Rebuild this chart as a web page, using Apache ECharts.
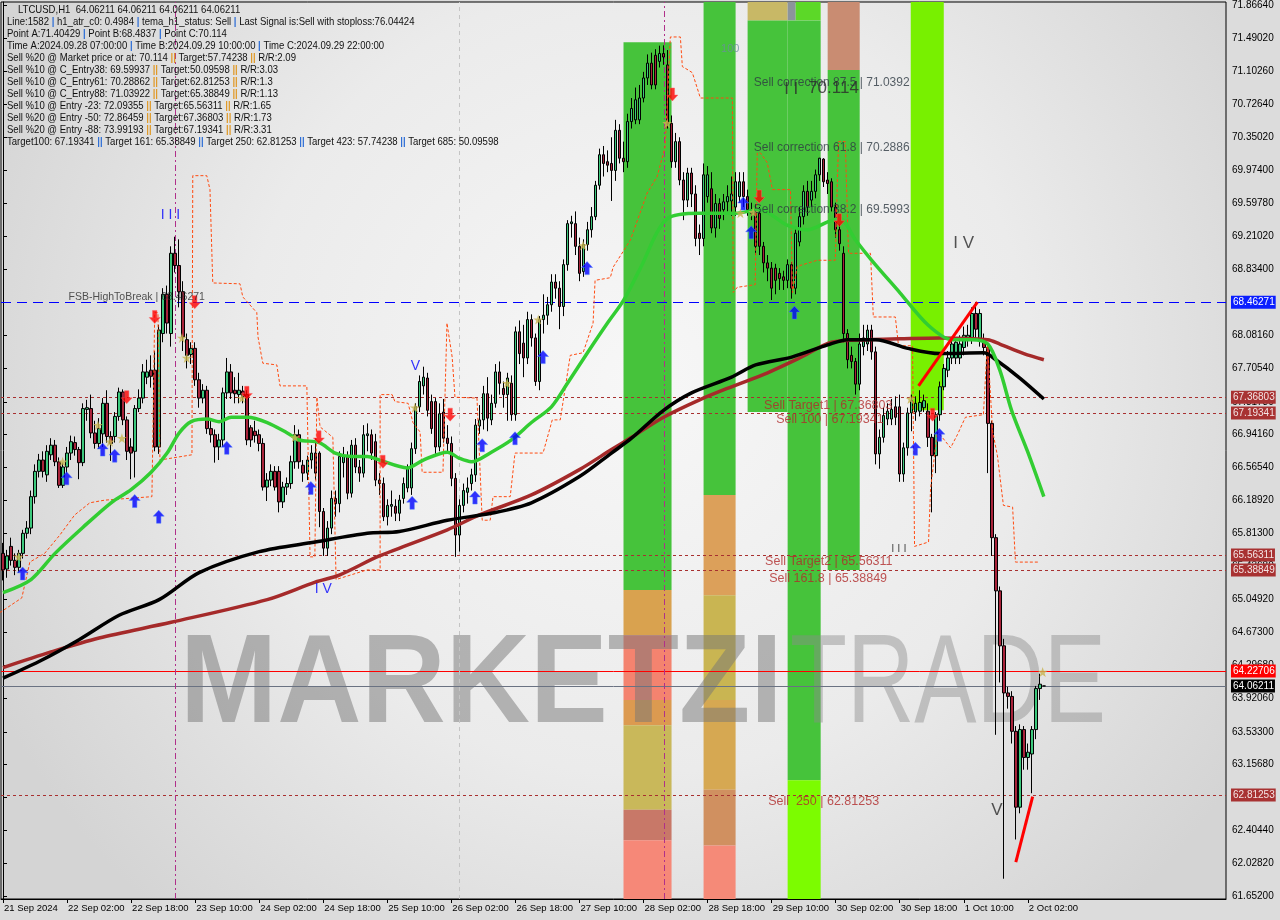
<!DOCTYPE html>
<html><head><meta charset="utf-8">
<script src="https://cdn.jsdelivr.net/npm/echarts@6/dist/echarts.min.js"></script>
<style>html,body{margin:0;padding:0;background:#dcdcdc}#c{width:1280px;height:920px}</style>
</head><body><div id="c"></div>
<script>
// ---------- DATA ----------
const totalSlots = 306;
const barsPerTick = 16;
const xTickLabels = ["21 Sep 2024","22 Sep 02:00","22 Sep 18:00","23 Sep 10:00","24 Sep 02:00","24 Sep 18:00","25 Sep 10:00","26 Sep 02:00","26 Sep 18:00","27 Sep 10:00","28 Sep 02:00","28 Sep 18:00","29 Sep 10:00","30 Sep 02:00","30 Sep 18:00","1 Oct 10:00","2 Oct 02:00"];
const yTicks = [71.8664,71.4902,71.1026,70.7264,70.3502,69.974,69.5978,69.2102,68.834,68.4578,68.0816,67.7054,67.3178,66.9416,66.5654,66.1892,65.813,65.4368,65.0492,64.673,64.2968,63.9206,63.533,63.1568,62.7806,62.4044,62.0282,61.652];
const yMin = 61.6176, yMax = 71.9008;

// [open, close, low, high]
const candles = [
[65.58,65.39,65.27,65.70],[65.40,65.55,65.30,65.62],[65.66,65.50,65.44,65.76],[65.50,65.42,65.33,65.58],[65.42,65.58,65.36,65.62],
[65.58,65.81,65.52,65.85],[65.81,65.87,65.75,65.95],[65.87,66.23,65.80,66.30],[66.23,66.52,66.15,66.60],[66.52,66.65,66.45,66.72],
[66.65,66.52,66.45,66.75],[66.48,66.75,66.40,66.82],[66.71,66.82,66.65,66.90],[66.82,66.63,66.58,66.88],[66.63,66.36,66.33,66.68],
[66.36,66.57,66.33,66.62],[66.57,66.73,66.50,66.80],[66.73,66.86,66.65,66.93],[66.85,66.77,66.70,66.92],[66.77,66.62,66.43,66.80],
[66.62,67.24,66.58,67.30],[67.23,67.25,67.10,67.34],[67.24,66.96,66.90,67.40],[66.96,66.84,66.78,67.10],[66.84,67.01,66.78,67.13],
[66.95,67.30,66.80,67.36],[67.30,66.92,66.85,67.45],[66.92,66.84,66.64,66.98],[66.92,67.15,66.85,67.20],[67.15,67.43,67.10,67.48],
[67.43,67.11,67.05,67.46],[67.11,66.75,66.65,67.15],[66.80,66.73,66.43,66.90],[66.75,67.24,66.45,67.28],[67.24,67.36,67.20,67.46],
[67.36,67.66,67.30,67.75],[67.60,67.66,67.52,67.80],[67.68,67.61,67.48,67.85],[67.68,66.80,66.75,67.90],[66.80,68.14,66.72,68.20],
[68.10,68.55,68.00,68.62],[68.55,68.22,68.10,68.65],[68.10,69.02,67.95,69.10],[69.02,68.88,68.80,69.21],[68.88,68.58,68.40,69.18],
[68.58,68.06,67.90,68.70],[68.03,67.85,67.70,68.10],[67.86,67.93,67.75,68.00],[67.93,67.57,67.50,68.00],[67.57,67.36,67.25,67.65],
[67.36,67.45,67.30,67.52],[67.45,67.01,66.95,67.50],[67.01,66.94,66.85,67.10],[66.94,66.80,66.62,67.00],[66.80,66.88,66.65,66.95],
[66.88,67.42,66.80,67.48],[67.42,67.66,67.35,67.82],[67.66,67.42,67.35,67.75],[67.45,67.41,67.30,67.60],[67.40,67.45,67.30,67.65],
[67.44,67.38,67.30,67.50],[67.40,66.88,66.82,67.45],[67.02,66.88,66.80,67.05],[66.98,66.93,66.85,67.10],[66.94,66.84,66.75,67.00],
[66.84,66.34,66.30,66.90],[66.34,66.42,66.18,66.50],[66.42,66.52,66.35,66.60],[66.52,66.34,66.30,66.58],[66.52,66.17,66.05,66.58],
[66.17,66.34,66.10,66.40],[66.34,66.38,66.25,66.45],[66.38,66.63,66.32,66.70],[66.63,66.94,66.55,67.05],[66.94,66.63,66.55,67.00],
[66.59,66.50,66.40,66.65],[66.50,66.65,66.42,66.70],[66.65,66.73,66.55,66.82],[66.73,66.50,66.42,66.90],[66.73,66.06,65.88,66.75],
[66.06,65.64,65.55,66.10],[65.64,65.87,65.55,65.95],[65.87,66.21,65.80,66.30],[66.21,66.15,66.00,66.30],[66.15,66.69,66.05,66.75],
[66.62,66.69,66.45,66.80],[66.69,66.27,66.20,66.75],[66.27,66.82,66.22,66.88],[66.82,66.57,66.50,66.90],[66.57,66.50,66.40,66.65],
[66.50,66.94,66.45,67.05],[66.93,66.95,66.75,67.07],[66.94,66.73,66.65,67.00],[66.86,66.42,66.35,66.95],[66.42,66.38,66.25,66.50],
[66.38,66.00,65.95,66.45],[66.00,66.13,65.90,66.20],[66.12,66.14,66.00,66.30],[66.12,66.04,65.95,66.20],[66.04,66.19,65.95,66.25],
[66.21,66.38,66.15,66.45],[66.33,66.55,66.28,66.60],[66.33,66.78,66.25,66.85],[66.78,67.26,66.72,67.30],[67.26,67.55,67.20,67.62],
[67.50,67.60,67.40,67.72],[67.59,67.22,67.15,67.65],[67.32,67.01,66.95,67.40],[67.32,66.80,66.72,67.36],[66.80,67.18,66.75,67.30],
[67.20,66.90,66.85,67.35],[66.90,66.84,66.75,67.05],[66.84,66.44,66.35,66.92],[66.44,65.79,65.54,66.50],[65.79,66.13,65.60,66.20],
[66.13,66.30,66.05,66.38],[66.28,66.33,66.15,66.45],[66.38,66.48,66.30,66.55],[66.48,67.05,66.40,67.12],[67.04,67.11,66.95,67.28],
[67.11,67.41,67.00,67.50],[67.41,67.13,66.98,67.60],[67.11,67.30,67.05,67.40],[67.30,67.66,67.25,67.75],[67.66,67.53,67.40,67.78],
[67.47,67.40,67.25,67.55],[67.40,67.59,67.10,67.65],[67.53,67.17,67.10,67.62],[67.17,68.12,67.10,68.18],[68.12,67.87,67.75,68.25],
[67.99,67.82,67.60,68.20],[67.82,68.26,67.75,68.35],[68.26,68.05,67.95,68.32],[68.05,67.55,67.50,68.10],[67.55,68.26,67.45,68.30],
[68.26,68.31,68.10,68.55],[68.31,68.43,68.20,68.52],[68.43,68.69,68.35,68.78],[68.69,68.62,68.50,68.78],[68.62,68.41,68.15,68.70],
[68.41,68.89,68.30,68.95],[68.89,69.36,68.82,69.40],[69.36,69.38,69.20,69.45],[69.36,69.10,69.00,69.50],[69.10,68.79,68.70,69.20],
[68.81,69.12,68.75,69.18],[69.12,69.29,69.05,69.38],[69.29,69.44,69.20,69.55],[69.44,69.80,69.40,69.85],[69.80,70.15,69.75,70.22],
[70.15,70.05,69.90,70.25],[70.07,70.03,69.95,70.20],[70.05,69.97,69.62,70.35],[69.97,70.43,69.85,70.55],[70.43,70.11,70.05,70.50],
[70.11,70.07,69.95,70.30],[70.07,70.53,70.00,70.62],[70.53,70.68,70.45,70.80],[70.55,70.78,70.50,70.92],[70.55,70.80,70.50,70.95],
[70.80,71.03,70.75,71.10],[71.03,71.20,70.95,71.30],[71.20,70.95,70.90,71.32],[71.29,70.95,70.90,71.36],[71.22,71.31,71.15,71.40],
[71.31,71.27,71.18,71.404],[71.18,70.51,70.45,71.35],[70.51,70.07,70.00,70.60],[70.07,70.30,70.00,70.40],[70.30,69.86,69.80,70.35],
[69.86,69.63,69.40,69.95],[69.63,69.94,69.55,70.00],[69.94,69.70,69.55,70.00],[69.70,69.19,69.10,69.80],[69.25,69.19,69.00,69.35],
[69.19,69.92,69.10,70.05],[69.67,69.92,69.60,70.02],[69.76,69.31,69.25,69.95],[69.31,69.59,69.20,69.70],[69.59,69.42,69.30,69.65],
[69.52,69.61,69.40,69.70],[69.61,69.67,69.50,69.80],[69.62,69.70,69.45,69.90],[69.55,69.84,69.45,69.95],[69.67,69.84,69.60,69.95],
[69.84,69.67,69.55,69.95],[69.67,69.52,69.45,69.75],[69.52,69.48,69.40,69.60],[69.52,69.10,69.00,69.58],[69.48,69.10,69.00,69.55],
[69.10,68.91,68.80,69.15],[68.91,68.85,68.70,69.00],[68.85,68.62,68.484,68.92],[68.85,68.71,68.55,68.90],[68.79,68.73,68.60,68.85],
[68.75,68.71,68.60,68.82],[68.71,68.89,68.62,68.95],[68.89,68.62,68.50,68.92],[68.62,69.25,68.55,69.30],[69.15,69.44,69.10,69.55],
[69.44,69.73,69.35,69.80],[69.73,69.55,69.45,69.85],[69.63,69.73,69.55,69.85],[69.73,69.92,69.65,69.98],[69.92,70.11,69.85,70.114],
[70.10,69.84,69.78,70.11],[69.86,69.82,69.70,69.95],[69.84,69.55,69.50,69.88],[69.55,69.29,69.20,69.60],[69.29,69.13,69.05,69.35],
[69.02,68.10,68.00,69.10],[68.10,67.80,67.70,68.15],[67.85,67.78,67.70,67.95],[67.78,67.52,67.40,67.82],[67.52,67.98,67.45,68.10],
[67.95,68.05,67.85,68.20],[67.98,68.14,67.90,68.20],[68.14,67.89,67.80,68.20],[67.89,66.72,66.60,67.95],[66.72,66.91,66.55,67.00],
[66.91,67.16,66.85,67.25],[67.12,67.21,67.05,67.30],[67.12,67.23,67.05,67.35],[67.26,67.14,67.05,67.38],[67.26,66.49,66.40,67.40],
[66.49,66.79,66.40,66.85],[66.79,67.19,66.70,67.25],[67.19,67.33,66.98,67.40],[67.20,67.30,67.10,67.38],[67.21,67.31,67.15,67.45],
[67.25,67.33,67.20,67.40],[67.21,66.91,66.80,67.30],[66.91,66.70,66.05,66.95],[66.70,67.17,66.50,67.20],[67.17,67.49,67.10,67.55],
[67.49,67.70,67.45,67.75],[67.68,67.82,67.60,67.90],[67.82,67.98,67.75,68.05],[67.82,68.00,67.75,68.05],[67.82,67.98,67.75,68.08],
[67.94,68.08,67.85,68.18],[68.05,68.08,67.95,68.20],[68.05,68.33,67.98,68.40],[68.33,68.15,68.05,68.46],[68.03,68.33,67.95,68.38],
[68.01,67.94,67.85,68.10],[67.94,67.07,66.50,68.00],[67.07,65.76,65.55,67.10],[65.76,65.15,63.50,65.80],[65.15,64.52,64.10,65.20],
[64.52,63.98,61.85,64.60],[63.98,63.94,63.80,64.05],[63.94,63.54,63.40,64.00],[63.54,62.67,62.30,63.60],[62.67,63.56,62.60,63.62],
[63.56,63.24,63.10,63.60],[63.24,63.30,63.10,63.40],[63.28,63.56,62.83,63.60],[63.56,64.03,63.45,64.06],[64.03,64.08,63.90,64.20],
[64.06,64.06,64.06,64.06]
];

// moving averages: [barIndex, price]
const greenMA = [[0,65.13],[7,65.28],[13,65.58],[20,65.88],[27,66.16],[32,66.31],[37,66.51],[41,66.73],[44,66.96],[47,67.09],[51,67.12],[54,67.09],[57,67.14],[61,67.14],[66,67.08],[71,66.96],[74,66.88],[79,66.85],[83,66.73],[87,66.69],[91,66.69],[94,66.65],[101,66.56],[105,66.65],[111,66.74],[114,66.67],[117,66.63],[122,66.74],[127,66.88],[132,67.08],[137,67.26],[141,67.53],[146,67.88],[151,68.22],[155,68.48],[159,68.83],[166,69.42],[174,69.48],[183,69.48],[189,69.52],[196,69.34],[201,69.29],[206,69.38],[209,69.42],[213,69.17],[217,68.94],[224,68.57],[231,68.20],[237,68.03],[242,68.03],[246,67.98],[249,67.68],[252,67.21],[256,66.74],[260,66.23]];
const blackMA = [[0,64.15],[9,64.34],[19,64.59],[29,64.87],[39,65.05],[49,65.36],[64,65.60],[78,65.71],[91,65.81],[99,65.83],[111,65.96],[122,66.04],[132,66.16],[144,66.46],[152,66.73],[157,66.90],[165,67.22],[172,67.42],[182,67.60],[188,67.74],[197,67.83],[206,67.97],[211,68.03],[218,68.03],[226,67.93],[234,67.87],[245,67.88],[248,67.80],[254,67.59],[260,67.35]];
const brownMA = [[0,64.27],[12,64.45],[24,64.61],[42,64.79],[66,65.05],[78,65.25],[84,65.33],[94,65.55],[111,65.85],[119,66.02],[132,66.25],[144,66.54],[152,66.77],[157,66.91],[165,67.14],[174,67.34],[182,67.49],[191,67.65],[199,67.82],[207,68.00],[216,68.03],[224,68.04],[234,68.05],[246,68.03],[249,67.98],[255,67.87],[260,67.80]];
const stopLine = [[-0.8,64.90],[4.7,65.07],[6.7,65.48],[10.4,65.58],[14.2,65.79],[17.9,66.02],[21.7,66.16],[25.4,66.19],[37.2,66.23],[37.9,68.34],[38.7,68.34],[39.2,66.65],[47.2,66.71],[47.4,69.91],[50.9,69.91],[51.7,69.75],[52.4,68.68],[59.2,68.67],[59.9,68.52],[63.4,68.34],[63.7,68.06],[64.9,67.76],[68.4,67.74],[69.2,67.50],[75.9,67.50],[76.7,65.54],[77.9,65.54],[78.4,67.37],[79.2,67.03],[82.4,66.91],[83.2,65.28],[86.7,65.33],[90.9,65.39],[94.2,65.39],[94.2,67.40],[97.2,67.40],[97.9,67.32],[101.2,67.30],[102.4,67.08],[104.2,66.97],[104.7,66.51],[109.9,66.51],[110.9,68.22],[112.2,67.83],[112.9,67.37],[118.4,67.36],[119.7,65.96],[121.7,65.96],[122.4,66.23],[126.7,66.23],[127.9,66.73],[134.9,66.73],[137.2,67.11],[139.2,67.11],[141.7,67.85],[144.9,67.88],[147.4,68.22],[147.9,68.71],[151.7,68.74],[152.4,68.86],[156.7,69.17],[160.9,69.71],[163.4,69.90],[165.4,70.24],[166.7,71.50],[169.2,71.50],[169.7,71.16],[171.2,71.12],[172.2,71.09],[174.2,70.80],[182.2,70.80],[182.4,68.57],[183.4,68.63],[187.9,68.66],[188.4,70.17],[189.2,70.17],[190.9,70.06],[192.2,69.75],[196.7,69.75],[197.2,68.57],[198.4,68.87],[203.4,68.94],[207.9,68.94],[208.7,70.30],[210.4,70.30],[211.2,69.02],[216.7,69.02],[217.4,68.29],[222.9,68.29],[223.7,67.96],[227.2,67.96],[227.7,65.66],[231.2,65.71],[231.7,66.32],[233.4,66.98],[236.7,66.79],[238.4,66.94],[240.4,67.14],[244.9,67.17],[245.9,68.00],[247.2,66.98],[248.4,66.70],[249.9,66.13],[252.2,66.11],[252.9,65.48],[258.7,65.48]];
const trendUp = [[228.7,67.50],[243.4,68.46]];
const trendLow = [[253.0,62.04],[257.2,62.79]];

const buyArrows = [[4.9,65.35],[15.9,66.44],[24.9,66.77],[27.9,66.70],[32.9,66.18],[38.9,66.00],[55.9,66.79],[76.9,66.33],[102.2,66.16],[117.9,66.22],[119.7,66.82],[127.9,66.90],[134.9,67.83],[145.9,68.85],[184.9,69.59],[186.9,69.26],[197.7,68.34],[227.9,66.78],[233.9,66.94]];
const sellArrows = [[30.9,67.37],[37.9,68.29],[47.9,68.46],[60.9,67.42],[78.9,66.91],[94.9,66.63],[111.7,67.17],[167.2,70.84],[188.9,69.67],[208.9,69.40],[232.2,67.17]];
const stars = [[3.9,65.54],[14.9,66.63],[23.7,67.05],[26.7,66.86],[29.7,66.90],[44.7,68.05],[45.9,67.82],[59.7,67.36],[72.9,66.91],[102.9,67.25],[125.9,67.53],[133.7,68.26],[144.9,69.11],[165.9,70.51],[184.2,69.48],[187.4,69.49],[226.7,67.35],[259.7,64.22]];

// signal zones: [fromBar, toBar, topPrice, bottomPrice]
const zoneSpans = [
[155,167,71.44,65.16],[155,167,65.16,64.64],[155,167,64.64,63.90],[155,167,63.90,63.61],[155,167,63.61,62.64],[155,167,62.64,62.29],[155,167,62.29,61.6176],
[175,183,71.9008,66.25],[175,183,66.25,65.10],[175,183,65.10,63.90],[175,183,63.90,62.87],[175,183,62.87,62.23],[175,183,62.23,61.6176],
[186,196,71.9008,71.69],[186,196,71.69,67.20],
[196,198,71.9008,71.69],[198,204.25,71.9008,71.69],[196,204.25,71.69,62.98],[196,204.25,62.98,61.6176],
[206,214,71.9008,71.12],[206,214,71.12,65.39],
[226.75,235,71.9008,67.22]
];
const zoneColors = ['#46c33b','#d9a24f','#f4836f','#dc9a50','#c9b85a','#c87868','#f68878',
'#46c33b','#dca05a','#c9b552','#d6a852','#d09060','#f58a78',
'#c8b866','#46c33b',
'#8c949c','#5cd828','#46c33b','#7cfc00',
'#c98c72','#46c33b',
'#78f000'];

const levelValues = [68.46271, 67.36803, 67.19341, 65.56311, 65.38849, 62.81253, 64.22706, 64.06211];
const verticalMarks = [43.07, 165.1, 114];

const headerLines = [
"LTCUSD,H1  64.06211 64.06211 64.06211 64.06211",
"Line:1582 | h1_atr_c0: 0.4984 | tema_h1_status: Sell | Last Signal is:Sell with stoploss:76.04424",
"Point A:71.40429 | Point B:68.4837 | Point C:70.114",
"Time A:2024.09.28 07:00:00 | Time B:2024.09.29 10:00:00 | Time C:2024.09.29 22:00:00",
"Sell %20 @ Market price or at: 70.114 || Target:57.74238 || R/R:2.09",
"Sell %10 @ C_Entry38: 69.59937 || Target:50.09598 || R/R:3.03",
"Sell %10 @ C_Entry61: 70.28862 || Target:62.81253 || R/R:1.3",
"Sell %10 @ C_Entry88: 71.03922 || Target:65.38849 || R/R:1.13",
"Sell %10 @ Entry -23: 72.09355 || Target:65.56311 || R/R:1.65",
"Sell %20 @ Entry -50: 72.86459 || Target:67.36803 || R/R:1.73",
"Sell %20 @ Entry -88: 73.99193 || Target:67.19341 || R/R:3.31",
"Target100: 67.19341 || Target 161: 65.38849 || Target 250: 62.81253 || Target 423: 57.74238 || Target 685: 50.09598"
];

const correctionNotes = [[187.4,70.972,"Sell correction 87.5 | 71.0392"],[187.4,70.227,"Sell correction 61.8 | 70.2886"],[187.4,69.516,"Sell correction 38.2 | 69.5993"]];
const sellLevelNotes = [[190,67.27,"Sell Target1 | 67.36803"],[193,67.109,"Sell 100 | 67.19341"],[190.25,65.481,"Sell Target2 | 65.56311"],[191.25,65.297,"Sell 161.8 | 65.38849"],[191,62.73,"Sell  250 | 62.81253"]];
const fsbNotes = [[16.25,68.519,"FSB-HighToBreak | 68.46271"]];
const waveBlueNotes = [[39.25,69.46,"I I I"],[101.75,67.728,"V"],[77.75,65.17,"I V"]];
const waveDarkNotes = [[237.25,69.138,"I V"],[246.75,62.638,"V"],[195,70.904,"I I"],[201,70.915,"70.114"]];
const smallNotes = [[221.75,65.63,"I I I"]];
const pctNotes = [[179.25,71.362,"100"]];

// ---------- CHART ----------
const FONT = '"Liberation Sans", Arial, sans-serif';
const chart = echarts.init(document.getElementById('c'));

const levelStyles = [
  {line:{color:'#0000ff',type:[10,6],width:1}, bg:'#0a1eff', fg:'#ffffff'},
  {line:{color:'#a83030',type:[3,3],width:1}, bg:'#a83232', fg:'#f4e4e4'},
  {line:{color:'#a83030',type:[3,3],width:1}, bg:'#a83232', fg:'#f4e4e4'},
  {line:{color:'#a83030',type:[3,3],width:1}, bg:'#a83232', fg:'#f4e4e4'},
  {line:{color:'#a83030',type:[3,3],width:1}, bg:'#a83232', fg:'#f4e4e4'},
  {line:{color:'#a83030',type:[3,3],width:1}, bg:'#a83232', fg:'#f4e4e4'},
  {line:{color:'#ff0000',type:'solid',width:1}, bg:'#ff0000', fg:'#ffffff'},
  {line:{color:'#6a7282',type:'solid',width:1}, bg:'#000000', fg:'#ffffff'}
];
const verticalStyles = [
  {color:'#b0308a',type:[6,3,2,3],width:1},
  {color:'#b0308a',type:[6,3,2,3],width:1},
  {color:'#c4c4c4',type:[4,4],width:1}
];

function noteSeries(list, color, size, extra) {
  return {
    type:'scatter', xAxisIndex:1, yAxisIndex:0, z:7, silent:true,
    symbolSize:1, itemStyle:{color:'rgba(0,0,0,0)'},
    data: list.map(n => ({value:[n[0], n[1]], name:n[2]})),
    label:Object.assign({show:true, position:'right', distance:0, formatter:'{b}', color:color, fontSize:size, fontFamily:FONT}, extra||{})
  };
}

const headerGraphics = headerLines.map((t, k) => {
  const sepColor = (k >= 1 && k <= 3) || k === 11 ? '#2f6fd6' : '#e09a2a';
  const parts = t.split(/(\|\|?)/).filter(p => p.length);
  const txt = parts.map(p => (p[0] === '|' ? '{s|' + p + '}' : '{t|' + p + '}')).join('');
  return {
    type:'text', x: k === 0 ? 18 : 7, y: 5 + 12 * k, z: 20, scaleX: 0.91, originX: 0, silent:true,
    style:{ text: txt, fontSize:10.5, fontFamily:FONT, fill:'#000', verticalAlign:'top',
      rich:{ t:{fill:'#101010', color:'#101010', fontSize:10.5, fontFamily:FONT},
             s:{fill:sepColor, color:sepColor, fontSize:10.5, fontFamily:FONT, fontWeight:'bold'} } }
  };
});

const option = {
  animation:false,
  backgroundColor:'#dcdcdc',
  grid:{left:1, right:54, top:2, bottom:21, show:true, borderColor:'#000', borderWidth:1,
    backgroundColor:{type:'radial', x:0.52, y:0.42, r:0.8, colorStops:[{offset:0,color:'#f7f7f7'},{offset:0.55,color:'#ebebeb'},{offset:1,color:'#d4d4d4'}]}},
  xAxis:[{
    type:'category', boundaryGap:true,
    data: Array.from({length: totalSlots}, (_, i) => String(i)),
    axisLine:{show:true, lineStyle:{color:'#000'}},
    axisTick:{show:true, alignWithLabel:true, length:4, lineStyle:{color:'#000'},
      interval:(i) => i % barsPerTick === 0 && i / barsPerTick < xTickLabels.length},
    axisLabel:{interval:(i) => i % barsPerTick === 0 && i / barsPerTick < xTickLabels.length,
      formatter:(v, i) => xTickLabels[Math.round(i / barsPerTick)] || '',
      align:'left', padding:[0,0,0,1], margin:4, color:'#000', fontSize:9.5, fontFamily:FONT},
    splitLine:{show:false}
  },{
    type:'value', min:-0.5, max:totalSlots - 0.5, show:false
  }],
  yAxis:{
    type:'value', position:'right', min:yMin, max:yMax, scale:true,
    axisLine:{show:true, lineStyle:{color:'#000'}},
    axisTick:{show:true, customValues:yTicks, length:4, lineStyle:{color:'#000'}},
    axisLabel:{customValues:yTicks, formatter:(v) => v.toFixed(5), color:'#000', fontSize:10, fontFamily:FONT, margin:6},
    splitLine:{show:false}
  },
  graphic:[
    {type:'text', x:180, y:624, z:1, scaleX:0.926, originX:0, silent:true,
      style:{text:'MARKETZI', font:'bold 126px ' + FONT, fill:'rgba(118,118,118,0.5)', verticalAlign:'top'}},
    {type:'text', x:790, y:624, z:1, scaleX:0.74, originX:0, silent:true,
      style:{text:'TRADE', font:'126px ' + FONT, fill:'rgba(140,140,140,0.45)', verticalAlign:'top'}}
  ].concat(headerGraphics),
  series:[
    { // signal zones + stop line
      type:'line', name:'stop', xAxisIndex:1, yAxisIndex:0, z:4, silent:true,
      data: stopLine, showSymbol:false, symbol:'none',
      lineStyle:{color:'#ff4a10', width:1, type:[3,2]},
      markArea:{silent:true, z:0,
        data: zoneSpans.map((b, k) => [{xAxis:b[0], yAxis:b[2], itemStyle:{color:zoneColors[k], opacity:1}}, {xAxis:b[1], yAxis:b[3]}])}
    },
    {
      type:'candlestick', xAxisIndex:0, yAxisIndex:0, z:3, silent:true,
      barWidth:3, data:candles,
      itemStyle:{color:'#3cc87c', color0:'#a8233a', borderColor:'#000', borderColor0:'#000', borderWidth:1}
    },
    {type:'line', xAxisIndex:1, z:4, silent:true, data:brownMA, smooth:0.3, symbol:'none', lineStyle:{color:'#a52a2a', width:3.5}},
    {type:'line', xAxisIndex:1, z:4, silent:true, data:blackMA, smooth:0.3, symbol:'none', lineStyle:{color:'#000', width:3.5}},
    {type:'line', xAxisIndex:1, z:4, silent:true, data:greenMA, smooth:0.3, symbol:'none', lineStyle:{color:'#32cd32', width:3.5}},
    {type:'line', xAxisIndex:1, z:5, silent:true, data:trendUp, symbol:'none', lineStyle:{color:'#ff0000', width:3}},
    {type:'line', xAxisIndex:1, z:5, silent:true, data:trendLow, symbol:'none', lineStyle:{color:'#ff0000', width:3}},
    { // levels and vertical marks
      type:'line', xAxisIndex:1, yAxisIndex:0, z:2, silent:true, data:[], symbol:'none',
      markLine:{silent:true, symbol:['none','none'], z:2,
        data: levelValues.map((v, k) => ({yAxis:v, lineStyle:levelStyles[k].line,
          label:{show:true, position:'end', distance:5, formatter:v.toFixed(5), backgroundColor:levelStyles[k].bg, color:levelStyles[k].fg, padding:[2,1,1,2], fontSize:10, fontFamily:FONT}}))
          .concat(verticalMarks.map((v, k) => ({xAxis:v, lineStyle:verticalStyles[k], label:{show:false}})))
      }
    },
    {type:'scatter', xAxisIndex:1, z:6, silent:true, data:stars,
      symbol:'path://M5,0 L6.2,3.6 L10,3.6 L6.9,5.8 L8.1,9.5 L5,7.3 L1.9,9.5 L3.1,5.8 L0,3.6 L3.8,3.6 Z', symbolSize:10,
      itemStyle:{color:'#c8b450'}},
    {type:'scatter', xAxisIndex:1, z:6, silent:true, data:buyArrows,
      symbol:'path://M0,5 L5,0 L10,5 L7,5 L7,11 L3,11 L3,5 Z', symbolSize:[11,13],
      itemStyle:{color:'#0000ff', borderColor:'#4a7cff', borderWidth:0.6}},
    {type:'scatter', xAxisIndex:1, z:6, silent:true, data:sellArrows,
      symbol:'path://M0,5 L5,0 L10,5 L7,5 L7,11 L3,11 L3,5 Z', symbolSize:[11,13], symbolRotate:180,
      itemStyle:{color:'#ff0000', borderColor:'#ff6060', borderWidth:0.6}},
    noteSeries(correctionNotes, '#2e3a42', 12),
    noteSeries(sellLevelNotes, '#b02a2a', 12.5),
    noteSeries(fsbNotes, '#2a2a2a', 10.5),
    noteSeries(waveBlueNotes, '#0000ff', 14),
    noteSeries(waveDarkNotes, '#2a2a2a', 17),
    noteSeries(smallNotes, '#2a2a2a', 11),
    noteSeries(pctNotes, '#6c8ca0', 11)
  ]
};
chart.setOption(option);
</script>
</body></html>
